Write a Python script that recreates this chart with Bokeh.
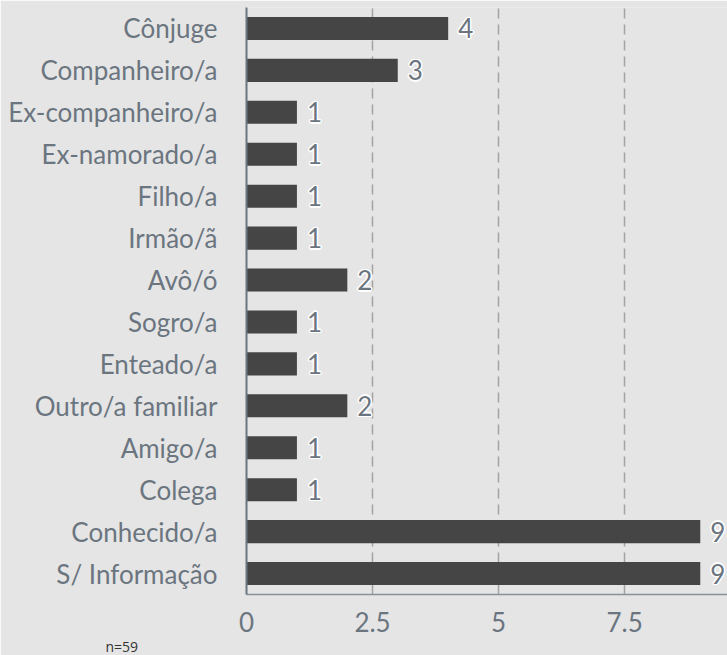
from bokeh.plotting import figure
from bokeh.models import ColumnDataSource, FactorRange, Range1d, FixedTicker, Title
from bokeh.core.properties import value
from bokeh.embed import file_html
from bokeh.resources import INLINE

categories = ["Cônjuge", "Companheiro/a", "Ex-companheiro/a", "Ex-namorado/a", "Filho/a",
              "Irmão/ã", "Avô/ó", "Sogro/a", "Enteado/a", "Outro/a familiar",
              "Amigo/a", "Colega", "Conhecido/a", "S/ Informação"]
counts = [4, 3, 1, 1, 1, 1, 2, 1, 1, 2, 1, 1, 9, 9]
x_ticks = [0, 2.5, 5, 7.5]
note = "n=59"

BG = "#e5e5e5"
TXT = "#6b7580"
FONT = "Lato"
FS = "26px"

src = ColumnDataSource(dict(cat=categories, n=counts, lab=[str(c) for c in counts]))

p = figure(width=727, height=655, output_backend="svg", toolbar_location=None,
           y_range=FactorRange(factors=categories[::-1], range_padding=0),
           x_range=Range1d(0, 9.54),
           min_border_left=246, min_border_right=0, min_border_top=7, min_border_bottom=60)
p.background_fill_color = BG
p.border_fill_color = BG
p.outline_line_color = None

p.hbar(y="cat", right="n", left=0, height=0.55, source=src, fill_color="#454545", line_color=None)
# white halo behind value labels
for dx, dy in [(-1.5, 0), (1.5, 0), (0, -1.5), (0, 1.5), (-1, -1), (1, 1), (-1, 1), (1, -1)]:
    p.text(x="n", y="cat", text="lab", source=src, x_offset=10 + dx, y_offset=dy,
           text_align="left", text_baseline="middle", text_font=value(FONT),
           text_font_size=FS, text_color="white")
p.text(x="n", y="cat", text="lab", source=src, x_offset=10, text_align="left",
       text_baseline="middle", text_font=value(FONT), text_font_size=FS, text_color=TXT)

p.ygrid.grid_line_color = None
p.xgrid.ticker = FixedTicker(ticks=[2.5, 5, 7.5])
p.xgrid.grid_line_color = "#a3a3a3"
p.xgrid.grid_line_width = 1.5
p.xgrid.grid_line_dash = "10 6"

p.xaxis.ticker = FixedTicker(ticks=x_ticks)
p.xaxis.major_label_overrides = {0: "0", 2.5: "2.5", 5: "5", 7.5: "7.5"}
for ax in (p.xaxis[0], p.yaxis[0]):
    ax.major_tick_line_color = None
    ax.minor_tick_line_color = None
    ax.major_tick_out = 0
    ax.major_tick_in = 0
    ax.minor_tick_out = 0
    ax.major_label_text_font = FONT
    ax.major_label_text_font_size = FS
    ax.major_label_text_color = TXT
p.xaxis.axis_line_color = "#8a9199"
p.xaxis.axis_line_width = 1.5
p.xaxis.major_label_standoff = 17
p.yaxis.axis_line_color = TXT
p.yaxis.axis_line_width = 2
p.yaxis.major_label_standoff = 29

t = Title(text=note, align="left", offset=-141, text_font="Open Sans",
          text_font_size="14px", text_font_style="normal", text_color="#333333", standoff=0)
p.add_layout(t, "below")

open("out.html", "w").write(file_html(p, INLINE))
